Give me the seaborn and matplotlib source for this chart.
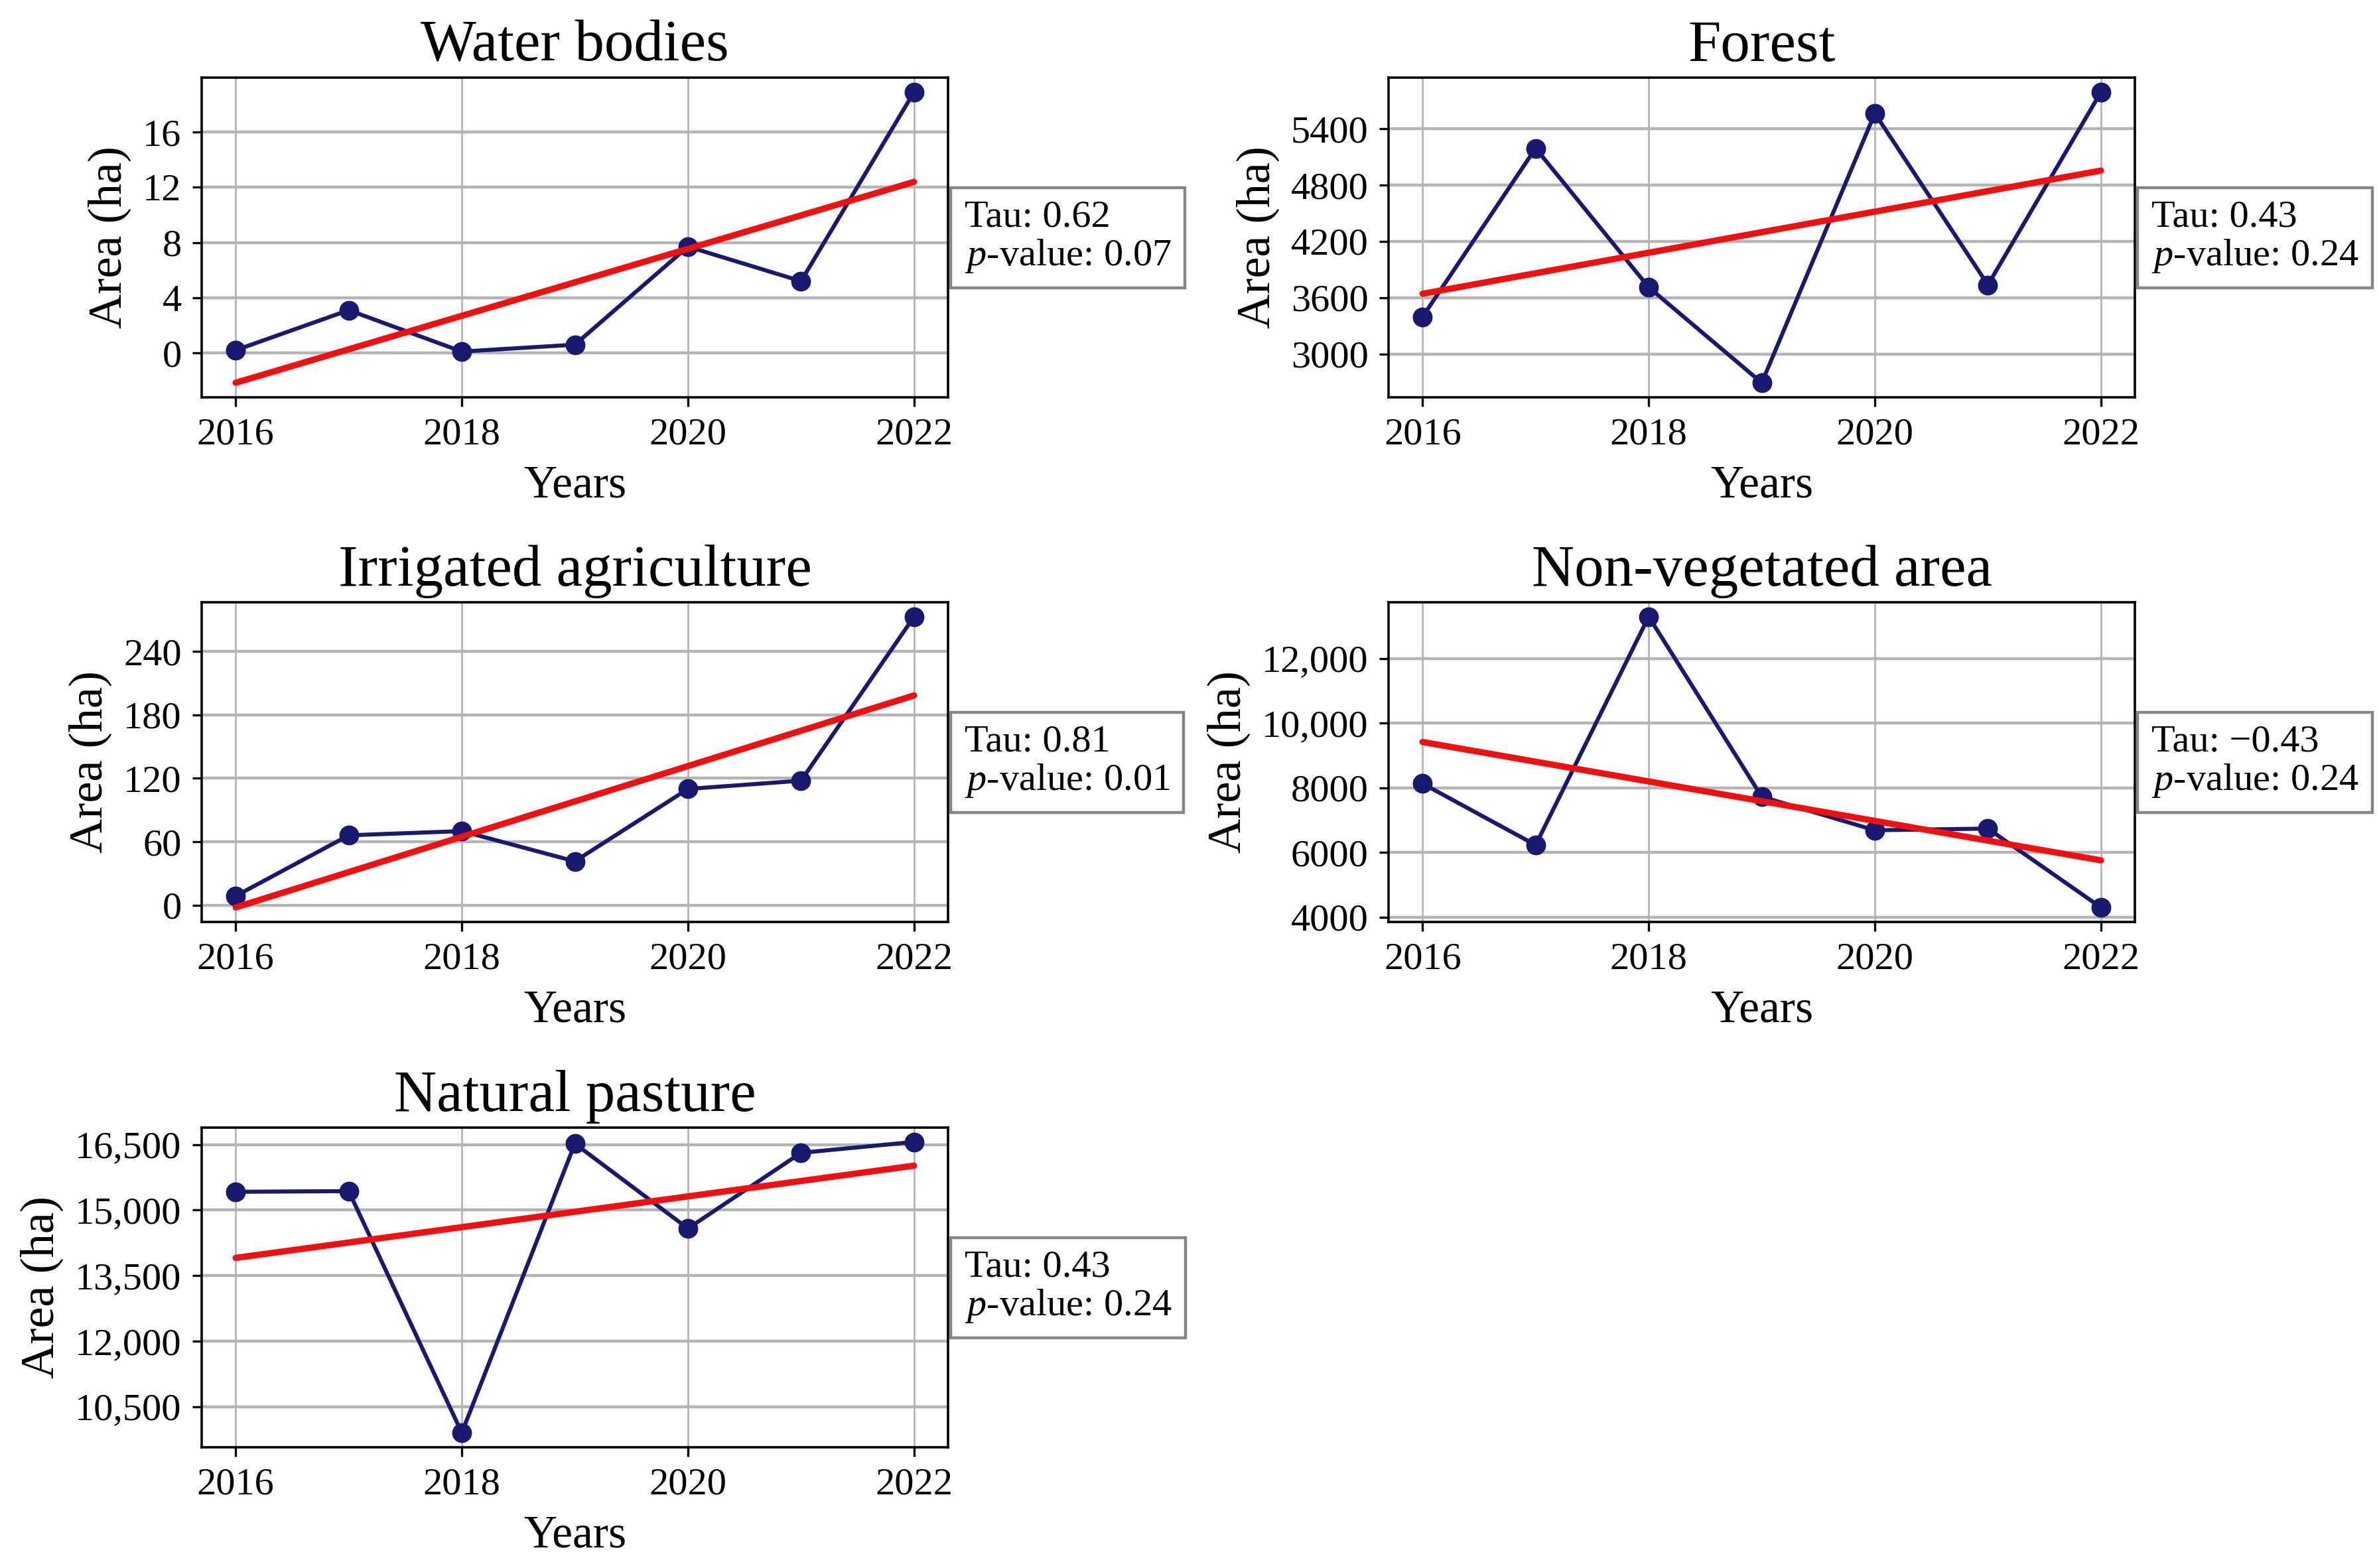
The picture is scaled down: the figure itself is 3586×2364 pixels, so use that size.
import matplotlib
matplotlib.use("Agg")
import matplotlib.pyplot as plt
from matplotlib.ticker import MultipleLocator, FuncFormatter
import seaborn as sns

# values
years = [2016, 2017, 2018, 2019, 2020, 2021, 2022]

water_bodies = [0.2, 3.1, 0.1, 0.6, 7.7, 5.2, 18.9]
forest = [3396, 5193, 3711, 2692, 5565, 3736, 5793]
irrigated_agriculture = [8.7, 66.1, 70.1, 41.5, 110.0, 117.8, 273.0]
non_vegetated_area = [8132, 6234, 13289, 7726, 6690, 6741, 4305]
natural_pasture = [15420, 15435, 9902, 16523, 14580, 16313, 16562]

titles = ["Water bodies", "Forest", "Irrigated agriculture",
          "Non-vegetated area", "Natural pasture"]
tau_values = ["0.62", "0.43", "0.81", "\u22120.43", "0.43"]
p_values = ["0.07", "0.24", "0.01", "0.24", "0.24"]
y_steps = [4, 600, 60, 2000, 1500]

series = [water_bodies, forest, irrigated_agriculture,
          non_vegetated_area, natural_pasture]

sns.set_style("ticks")
plt.rcParams['font.family'] = ['Liberation Serif', 'DejaVu Serif']
plt.rcParams['mathtext.fontset'] = 'custom'
plt.rcParams['mathtext.rm'] = 'Liberation Serif'
plt.rcParams['mathtext.it'] = 'Liberation Serif:italic'
plt.rcParams['axes.unicode_minus'] = True
for key in ['text.color', 'axes.labelcolor', 'xtick.color', 'ytick.color']:
    plt.rcParams[key] = 'black'

line_color = '#191970'
grid_color = '#b4b4b4'


def area_fmt(v, pos):
    if abs(v) >= 10000:
        return f"{v:,.0f}"
    return f"{v:.0f}"


fig = plt.figure(figsize=(17.93, 11.82), dpi=200)

col_left = [0.0848, 0.5837]
row_bottom = [0.7466, 0.412, 0.077]
w, h = 0.3137, 0.204

for i, vals in enumerate(series):
    r, c = divmod(i, 2)
    ax = fig.add_axes([col_left[c], row_bottom[r], w, h])

    sns.lineplot(x=years, y=vals, ax=ax, color=line_color, linewidth=2.2,
                 marker='o', markersize=10, markeredgecolor=line_color)
    # linear trend line
    sns.regplot(x=years, y=vals, ax=ax, scatter=False, ci=None,
                color='#f01010', line_kws={'linewidth': 3.4})

    ax.set_title(titles[i], fontsize=32, pad=9, color='black')
    ax.set_xlabel("Years", fontsize=25, labelpad=7)
    ax.set_ylabel("Area (ha)", fontsize=26, labelpad=6)

    ax.xaxis.set_major_locator(MultipleLocator(2))
    ax.yaxis.set_major_locator(MultipleLocator(y_steps[i]))
    ax.yaxis.set_major_formatter(FuncFormatter(area_fmt))
    ax.tick_params(labelsize=21, length=5, width=1.2, pad=6, color='black')

    ax.grid(axis='y', color=grid_color, linewidth=1.6)
    ax.grid(axis='x', color=grid_color, linewidth=1.0)
    ax.set_axisbelow(True)
    for s in ax.spines.values():
        s.set_color('black')
        s.set_linewidth(1.3)

    ax.text(1.022, 0.5, f"Tau: {tau_values[i]}\n$p$-value: {p_values[i]}",
            transform=ax.transAxes, ha='left', va='center', fontsize=21,
            linespacing=1.1,
            bbox=dict(boxstyle='square,pad=0.35', facecolor='white',
                      edgecolor='#858585', linewidth=1.6))

fig.savefig("out.png", dpi=200)
